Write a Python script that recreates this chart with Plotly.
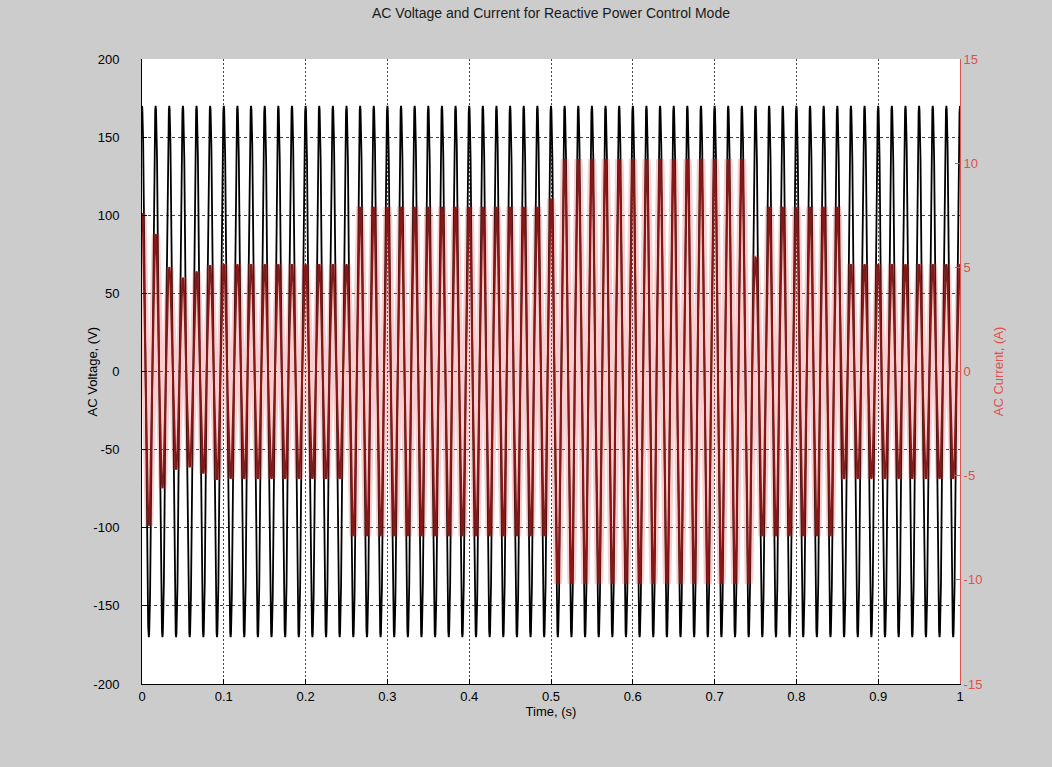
import numpy as np
import plotly.graph_objects as go

# ---- signal description -------------------------------------------------
FREQ_HZ = 60.0          # grid frequency
V_PEAK = 170.0          # AC voltage amplitude (V)
T_END = 1.0             # simulated time (s)

# current amplitude per control interval (A)
SEG_START = [0.0, 0.25, 0.5, 0.75, 0.85]
SEG_END = [0.25, 0.5, 0.75, 0.85, 1.0]
SEG_AMP = [5.15, 7.9, 10.2, 7.9, 5.15]

# start-up transient: magnitude of the first half-cycle peaks (A)
START_PEAKS = [7.6, 7.4, 6.6, 5.6, 5.0, 4.7, 4.5, 4.6, 4.8, 4.9, 5.1, 5.2]

# single half-cycle peaks at set-point steps (time of peak, magnitude in A)
STEP_PEAK_T = [0.5, 0.75]
STEP_PEAK_A = [8.3, 5.5]

# axis ticks
X_TICKS = [0.0, 0.1, 0.2, 0.3, 0.4, 0.5, 0.6, 0.7, 0.8, 0.9, 1.0]
X_TICK_TEXT = ["0", "0.1", "0.2", "0.3", "0.4", "0.5", "0.6", "0.7", "0.8", "0.9", "1"]
V_TICKS = [-200, -150, -100, -50, 0, 50, 100, 150, 200]
I_TICKS = [-15, -10, -5, 0, 5, 10, 15]

# ---- waveforms -----------------------------------------------------------
n_half = int(round(2 * FREQ_HZ * T_END)) + 1
half_t = np.arange(n_half) / (2 * FREQ_HZ)
half_amp = np.empty(n_half)
for j, tj in enumerate(half_t):
    for s, e, a in zip(SEG_START, SEG_END, SEG_AMP):
        if (s < tj <= e) or (s == 0.0 and tj == 0.0):
            half_amp[j] = a
            break
for j, a in enumerate(START_PEAKS):
    half_amp[j] = a
for tp, a in zip(STEP_PEAK_T, STEP_PEAK_A):
    half_amp[int(round(tp * 2 * FREQ_HZ))] = a

t = np.linspace(0.0, T_END, 9601)
phase = 2 * np.pi * FREQ_HZ * t
voltage = V_PEAK * np.cos(phase)
idx = np.clip(np.rint(t * 2 * FREQ_HZ).astype(int), 0, n_half - 1)
current = half_amp[idx] * np.cos(phase)

# ---- figure --------------------------------------------------------------
FONT = "Liberation Sans, Arial, sans-serif"
RED_AX = "#e0504c"

fig = go.Figure()
# soft glow of the current trace, drawn underneath everything
fig.add_trace(go.Scatter(x=t, y=current, mode="lines",
                         line=dict(color="rgba(230,80,80,0.28)", width=8),
                         hoverinfo="skip", showlegend=False, yaxis="y2"))
fig.add_trace(go.Scatter(x=t, y=voltage, mode="lines",
                         line=dict(color="black", width=1.8),
                         name="AC Voltage", yaxis="y"))
fig.add_trace(go.Scatter(x=t, y=current, mode="lines",
                         line=dict(color="#861818", width=2),
                         name="AC Current", yaxis="y2"))

fig.update_layout(
    width=1052, height=767,
    paper_bgcolor="#cccccc", plot_bgcolor="white",
    margin=dict(l=142, r=92, t=59, b=83),
    showlegend=False,
    font=dict(family=FONT, size=13, color="black"),
    title=dict(text="AC Voltage and Current for Reactive Power Control Mode",
               x=0.5, xref="paper", xanchor="center",
               y=1, yref="container", yanchor="top", pad=dict(t=8),
               font=dict(size=14, color="#1a1a1a")),
    xaxis=dict(range=[0, 1], tickvals=X_TICKS, ticktext=X_TICK_TEXT,
               showline=True, linecolor="black", linewidth=1,
               ticks="inside", ticklen=5, tickcolor="black",
               showgrid=True, gridcolor="#444444", gridwidth=1,
               griddash="2px,2px", zeroline=False,
               title=dict(text="Time, (s)", standoff=4,
                          font=dict(size=13))),
    yaxis=dict(range=[-200, 200], tickvals=V_TICKS,
               ticktext=[str(v) for v in V_TICKS],
               showline=True, linecolor="black", linewidth=1,
               ticks="inside", ticklen=5, tickcolor="black",
               ticklabelstandoff=19,
               showgrid=True, gridcolor="#444444", gridwidth=1,
               griddash="3px,3px", zeroline=False),
    yaxis2=dict(range=[-15, 15], tickvals=I_TICKS,
                ticktext=[str(v) for v in I_TICKS],
                overlaying="y", side="right",
                showline=True, linecolor=RED_AX, linewidth=1,
                ticks="inside", ticklen=5, tickcolor=RED_AX,
                tickfont=dict(color=RED_AX), showgrid=False, zeroline=False,
                title=dict(text="AC Current, (A)", standoff=12,
                           font=dict(size=13, color=RED_AX))),
    annotations=[dict(text="AC Voltage, (V)", textangle=-90,
                      x=-0.06, xref="paper", xanchor="center",
                      y=0.5, yref="paper", yanchor="middle",
                      showarrow=False, font=dict(size=13, color="black"))],
)

fig.write_html("out.html")
